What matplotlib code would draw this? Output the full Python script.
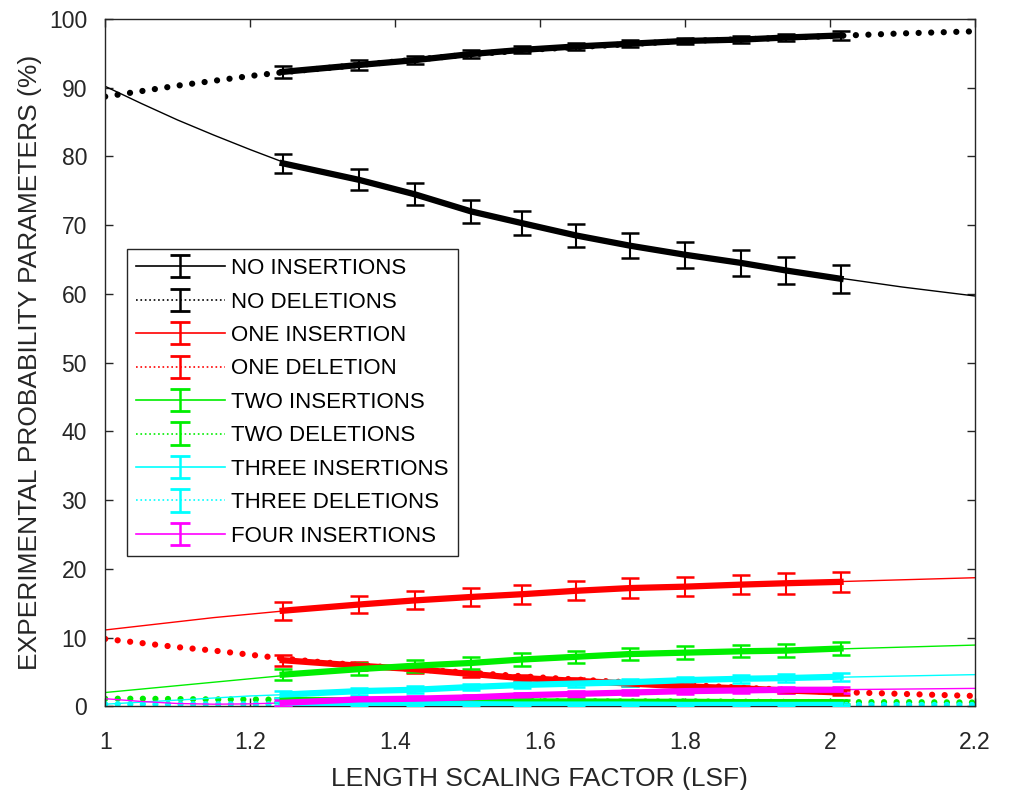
import matplotlib
matplotlib.use("Agg")
import matplotlib.pyplot as plt
import numpy as np

plt.rcParams['font.family'] = ['Liberation Sans', 'DejaVu Sans']

# Measured LSF points
lsf = [1.245, 1.35, 1.427, 1.505, 1.575, 1.65, 1.725, 1.8, 1.878, 1.94, 2.015]

fit_x = [1.0, 1.05, 1.1, 1.15, 1.2, 1.25, 1.3, 1.4, 1.5, 1.6, 1.7, 1.8, 1.9, 2.0, 2.1, 2.2]

labels = ["NO INSERTIONS", "NO DELETIONS", "ONE INSERTION", "ONE DELETION",
          "TWO INSERTIONS", "TWO DELETIONS", "THREE INSERTIONS", "THREE DELETIONS",
          "FOUR INSERTIONS"]
colors = ["black", "black", "#ff0000", "#ff0000", "#00ee00", "#00ee00",
          "#00ffff", "#00ffff", "#ff00ff"]
is_del = [False, True, False, True, False, True, False, True, False]

# measured values (%)
no_ins = [79.0, 76.6, 74.5, 72.0, 70.3, 68.5, 67.0, 65.7, 64.5, 63.4, 62.2]
no_ins_err = [1.4, 1.5, 1.6, 1.7, 1.7, 1.7, 1.8, 1.9, 1.9, 2.0, 2.0]
no_del = [92.3, 93.3, 94.0, 94.9, 95.5, 96.0, 96.4, 96.8, 97.0, 97.3, 97.6]
no_del_err = [0.9, 0.7, 0.6, 0.6, 0.5, 0.5, 0.5, 0.5, 0.5, 0.5, 0.6]
one_ins = [13.9, 14.8, 15.4, 15.9, 16.3, 16.8, 17.2, 17.4, 17.7, 17.9, 18.1]
one_ins_err = [1.3, 1.3, 1.3, 1.3, 1.4, 1.4, 1.4, 1.4, 1.4, 1.5, 1.5]
one_del = [6.7, 5.9, 5.4, 4.7, 4.1, 3.7, 3.3, 2.9, 2.6, 2.3, 2.0]
one_del_err = [0.8, 0.6, 0.5, 0.5, 0.4, 0.4, 0.3, 0.3, 0.3, 0.3, 0.3]
two_ins = [4.6, 5.4, 5.9, 6.3, 6.8, 7.2, 7.6, 7.8, 8.0, 8.1, 8.4]
two_ins_err = [0.85, 0.85, 0.85, 0.9, 0.9, 0.9, 0.9, 0.9, 0.9, 0.9, 0.9]
two_del = [0.95, 0.85, 0.8, 0.75, 0.7, 0.7, 0.65, 0.65, 0.6, 0.6, 0.6]
two_del_err = [0.3, 0.3, 0.3, 0.3, 0.3, 0.3, 0.3, 0.3, 0.3, 0.3, 0.3]
three_ins = [1.7, 2.2, 2.4, 2.8, 3.1, 3.3, 3.5, 3.8, 4.0, 4.1, 4.3]
three_ins_err = [0.5, 0.5, 0.5, 0.5, 0.5, 0.5, 0.5, 0.5, 0.55, 0.55, 0.6]
three_del = [0.35, 0.3, 0.3, 0.3, 0.25, 0.25, 0.25, 0.2, 0.2, 0.2, 0.2]
three_del_err = [0.2, 0.2, 0.2, 0.2, 0.2, 0.2, 0.2, 0.2, 0.2, 0.2, 0.2]
four_ins = [0.5, 1.0, 1.1, 1.3, 1.6, 1.8, 2.0, 2.2, 2.3, 2.4, 2.4]
four_ins_err = [0.4, 0.4, 0.4, 0.4, 0.4, 0.4, 0.4, 0.4, 0.4, 0.4, 0.4]

# fitted curves
no_ins_fit = [90.2, 87.7, 85.3, 83.1, 81.0, 79.0, 77.6, 75.2, 72.2, 69.6, 67.5, 65.7, 64.1, 62.5, 61.0, 59.7]
no_del_fit = [88.7, 89.5, 90.3, 91.0, 91.7, 92.3, 92.8, 93.8, 94.8, 95.6, 96.2, 96.8, 97.1, 97.5, 97.9, 98.2]
one_ins_fit = [11.1, 11.7, 12.3, 12.9, 13.4, 13.9, 14.3, 15.1, 15.8, 16.4, 16.9, 17.4, 17.8, 18.1, 18.4, 18.7]
one_del_fit = [9.8, 9.2, 8.6, 8.1, 7.5, 6.9, 6.4, 5.6, 4.9, 4.2, 3.6, 3.1, 2.6, 2.1, 1.8, 1.5]
two_ins_fit = [2.0, 2.5, 3.0, 3.5, 4.0, 4.5, 4.9, 5.6, 6.2, 6.7, 7.2, 7.6, 8.0, 8.3, 8.6, 8.9]
two_del_fit = [1.1, 1.1, 1.05, 1.0, 1.0, 0.95, 0.9, 0.85, 0.8, 0.75, 0.7, 0.7, 0.65, 0.6, 0.6, 0.55]
three_ins_fit = [0.3, 0.6, 0.9, 1.2, 1.5, 1.7, 1.9, 2.3, 2.7, 3.0, 3.3, 3.7, 4.0, 4.2, 4.4, 4.6]
three_del_fit = [0.3, 0.3, 0.3, 0.3, 0.3, 0.3, 0.3, 0.3, 0.25, 0.25, 0.25, 0.2, 0.2, 0.2, 0.2, 0.2]
four_ins_fit = [1.1, 0.7, 0.4, 0.3, 0.35, 0.5, 0.7, 1.0, 1.3, 1.6, 1.9, 2.1, 2.3, 2.4, 2.5, 2.6]

data = [no_ins, no_del, one_ins, one_del, two_ins, two_del, three_ins, three_del, four_ins]
errs = [no_ins_err, no_del_err, one_ins_err, one_del_err, two_ins_err, two_del_err,
        three_ins_err, three_del_err, four_ins_err]
fits = [no_ins_fit, no_del_fit, one_ins_fit, one_del_fit, two_ins_fit, two_del_fit,
        three_ins_fit, three_del_fit, four_ins_fit]

fig = plt.figure(figsize=(10.11, 7.9), dpi=100)
ax = fig.add_axes([0.104, 0.106, 0.86, 0.87])

dot_style = (0, (0.01, 2.0))
handles = []
for i in range(len(labels)):
    c = colors[i]
    if is_del[i]:
        ax.plot(fit_x, fits[i], color=c, lw=4.5, linestyle=dot_style,
                dash_capstyle='round', zorder=2)
    else:
        ax.plot(fit_x, fits[i], color=c, lw=1, zorder=2)
    ax.errorbar(lsf, data[i], yerr=errs[i], color=c, lw=4.5, elinewidth=1.5,
                capsize=6.5, capthick=1.8, zorder=3)
    # legend proxy: thin line with error bar
    h = ax.errorbar([np.nan], [np.nan], yerr=[np.nan], color=c, lw=1.2,
                    linestyle=':' if is_del[i] else '-',
                    elinewidth=1.8, capsize=7, capthick=2)
    handles.append(h)

ax.set_xlim(1, 2.2)
ax.set_ylim(0, 100)
ax.set_xticks([1, 1.2, 1.4, 1.6, 1.8, 2, 2.2])
ax.set_xticklabels(["1", "1.2", "1.4", "1.6", "1.8", "2", "2.2"])
ax.set_yticks(range(0, 101, 10))
ax.tick_params(direction='in', length=6, width=1, top=True, right=True,
               labelsize=16.5, colors='#262626')
ax.tick_params(axis='x', pad=18)
ax.tick_params(axis='y', pad=13)
for s in ax.spines.values():
    s.set_color('#262626')
    s.set_linewidth(1)

ax.set_xlabel("LENGTH SCALING FACTOR (LSF)", fontsize=19, color='#262626', labelpad=9)
ax.set_ylabel("EXPERIMENTAL PROBABILITY PARAMETERS (%)", fontsize=19, color='#262626', labelpad=5)

leg = ax.legend(handles, labels, loc='upper left', bbox_to_anchor=(0.025, 0.665),
                fontsize=16, handlelength=4.0, labelspacing=0.56, handletextpad=0.3,
                borderpad=0.4, borderaxespad=0, fancybox=False, framealpha=1,
                edgecolor='#262626')
leg.get_frame().set_linewidth(1)

fig.savefig("out.png", dpi=100)
